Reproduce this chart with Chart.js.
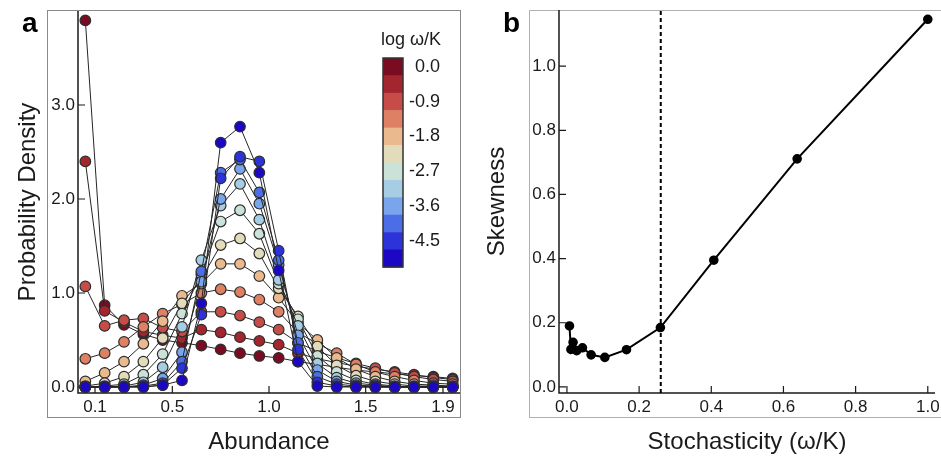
<!DOCTYPE html>
<html lang="en">
<head>
  <meta charset="UTF-8">
  <title>Abundance distributions and skewness</title>
  <script src="https://cdn.jsdelivr.net/npm/chart.js"></script>
  <style>
    body { margin: 0; background: #fff; overflow: hidden; }
    #wrap { position: relative; width: 941px; height: 457px; }
    .panel { position: absolute; top: 0; height: 457px; }
    #panelA { left: 0; width: 470px; }
    #panelB { left: 470px; width: 471px; }
  </style>
</head>
<body>
  <div id="wrap">
    <div class="panel" id="panelA"><canvas id="chartA"></canvas></div>
    <div class="panel" id="panelB"><canvas id="chartB"></canvas></div>
  </div>

  <script>
    // ---- panel a : abundance histograms, one curve per noise level
    const abundance = [0.05, 0.15, 0.25, 0.35, 0.45, 0.55, 0.65, 0.75, 0.85, 0.95,
                       1.05, 1.15, 1.25, 1.35, 1.45, 1.55, 1.65, 1.75, 1.85, 1.95];
    const logNoise = [0.0, -0.45, -0.9, -1.35, -1.8, -2.25, -2.7, -3.15, -3.6, -4.05, -4.5, -4.95];
    const noiseColors = ['#7a0c22', '#a3252e', '#c64d47', '#dd8063', '#ebb98e', '#e3dcba',
                         '#cae2d8', '#a6cde4', '#79a5ec', '#4b6de8', '#2b33d9', '#1c08c4'];

    const dens_000 = [3.90, 0.87, 0.66, 0.56, 0.50, 0.47, 0.44, 0.40, 0.36, 0.33, 0.31, 0.27, 0.24, 0.21, 0.18, 0.16, 0.14, 0.12, 0.11, 0.09];
    const dens_045 = [2.40, 0.81, 0.69, 0.59, 0.55, 0.52, 0.61, 0.58, 0.53, 0.49, 0.45, 0.36, 0.30, 0.26, 0.22, 0.19, 0.16, 0.13, 0.10, 0.08];
    const dens_090 = [1.07, 0.65, 0.71, 0.73, 0.63, 0.59, 0.80, 0.80, 0.76, 0.69, 0.61, 0.47, 0.38, 0.31, 0.25, 0.20, 0.15, 0.11, 0.08, 0.06];
    const dens_135 = [0.30, 0.36, 0.48, 0.64, 0.78, 0.88, 1.00, 1.04, 1.01, 0.93, 0.80, 0.58, 0.46, 0.36, 0.24, 0.16, 0.11, 0.07, 0.04, 0.03];
    const dens_180 = [0.06, 0.15, 0.27, 0.46, 0.70, 0.97, 1.10, 1.31, 1.31, 1.18, 0.95, 0.68, 0.50, 0.31, 0.19, 0.11, 0.06, 0.03, 0.02, 0.01];
    const dens_225 = [0.01, 0.04, 0.11, 0.27, 0.52, 0.89, 1.15, 1.51, 1.58, 1.42, 1.05, 0.75, 0.43, 0.23, 0.12, 0.06, 0.03, 0.01, 0.01, 0.00];
    const dens_270 = [0.00, 0.01, 0.03, 0.13, 0.35, 0.78, 1.20, 1.76, 1.88, 1.63, 1.10, 0.72, 0.33, 0.16, 0.07, 0.03, 0.01, 0.00, 0.00, 0.00];
    const dens_315 = [0.00, 0.00, 0.01, 0.05, 0.21, 0.64, 1.35, 1.93, 2.16, 1.78, 1.14, 0.65, 0.25, 0.10, 0.04, 0.02, 0.00, 0.00, 0.00, 0.00];
    const dens_360 = [0.00, 0.00, 0.00, 0.02, 0.09, 0.37, 1.12, 2.00, 2.32, 1.95, 1.30, 0.55, 0.18, 0.06, 0.02, 0.01, 0.00, 0.00, 0.00, 0.00];
    const dens_405 = [0.00, 0.00, 0.00, 0.01, 0.04, 0.27, 1.23, 2.28, 2.42, 2.07, 1.35, 0.47, 0.11, 0.03, 0.01, 0.00, 0.00, 0.00, 0.00, 0.00];
    const dens_450 = [0.00, 0.00, 0.00, 0.00, 0.02, 0.20, 0.77, 2.22, 2.45, 2.40, 1.45, 0.40, 0.05, 0.01, 0.00, 0.00, 0.00, 0.00, 0.00, 0.00];
    const dens_495 = [0.00, 0.00, 0.00, 0.00, 0.02, 0.07, 0.89, 2.60, 2.77, 2.28, 1.24, 0.27, 0.01, 0.00, 0.00, 0.00, 0.00, 0.00, 0.00, 0.00];
    const densities = [dens_000, dens_045, dens_090, dens_135, dens_180, dens_225,
                       dens_270, dens_315, dens_360, dens_405, dens_450, dens_495];

    const xTicksA = [0.1, 0.5, 1.0, 1.5, 1.9];
    const yTicksA = [0, 1, 2, 3];

    // ---- panel b : skewness vs stochasticity
    const stochasticity = [0.007, 0.011, 0.017, 0.027, 0.043, 0.067, 0.105, 0.165, 0.259, 0.407, 0.638, 1.0];
    const skewness      = [0.190, 0.117, 0.139, 0.113, 0.122, 0.100, 0.092, 0.116, 0.185, 0.395, 0.711, 1.146];
    const threshold = 0.26;
    const xTicksB = [0, 0.2, 0.4, 0.6, 0.8, 1.0];
    const yTicksB = [0, 0.2, 0.4, 0.6, 0.8, 1.0];

    // axis ranges
    const rangeA = { xmin: 0.012, xmax: 1.988, ymin: -0.064, ymax: 4.0 };
    const rangeB = { xmin: -0.022, xmax: 1.02, ymin: -0.019, ymax: 1.175 };

    Chart.defaults.font.family = "'Liberation Sans', Arial, Helvetica, sans-serif";
    Chart.defaults.color = '#1a1a1a';
    Chart.defaults.animation = false;

    const FONT = "'Liberation Sans', Arial, Helvetica, sans-serif";
    const fixTicks = list => scale => { scale.ticks = list.map(v => ({ value: v })); };

    function xAxis(min, max, ticks, title) {
      return {
        type: 'linear', min, max,
        grid: { display: false, drawTicks: false },
        border: { display: false },
        afterBuildTicks: fixTicks(ticks),
        afterFit: s => { s.height = 64; s.paddingLeft = 0; s.paddingRight = 0; },
        ticks: { padding: 4, font: { size: 17 }, maxRotation: 0, autoSkip: false,
                 callback: v => Number(v).toFixed(1) },
        title: { display: true, text: title, font: { size: 24 }, padding: { top: 0, bottom: 0 } }
      };
    }

    function yAxis(min, max, ticks, title, width, titlePad) {
      return {
        type: 'linear', min, max,
        grid: { display: false, drawTicks: false },
        border: { display: false },
        afterBuildTicks: fixTicks(ticks),
        afterFit: s => { s.width = width; s.paddingTop = 0; s.paddingBottom = 0; },
        ticks: { padding: 3, font: { size: 17 }, autoSkip: false,
                 callback: v => Number(v).toFixed(1) },
        title: { display: true, text: title, font: { size: 24 }, padding: { top: titlePad, bottom: 0 } }
      };
    }

    // frame, axis lines, inward ticks and panel letter
    const panelDecor = {
      id: 'panelDecor',
      beforeDatasetsDraw(chart, args, o) {
        const { ctx, chartArea: a } = chart;
        const xs = chart.scales.x, ys = chart.scales.y;
        ctx.save();
        ctx.strokeStyle = o.frameColor;
        ctx.lineWidth = 1;
        ctx.strokeRect(o.frame[0] + 0.5, o.frame[1] + 0.5, o.frame[2], o.frame[3]);

        ctx.strokeStyle = '#1a1a1a';
        ctx.lineWidth = 1.5;
        ctx.beginPath();
        ctx.moveTo(a.left, a.top);
        ctx.lineTo(a.left, a.bottom);
        ctx.lineTo(a.right, a.bottom);
        ctx.stroke();

        ctx.lineWidth = 1.2;
        ctx.beginPath();
        xs.ticks.forEach(t => {
          const px = xs.getPixelForValue(t.value);
          ctx.moveTo(px, a.bottom); ctx.lineTo(px, a.bottom - 7);
        });
        ys.ticks.forEach(t => {
          const py = ys.getPixelForValue(t.value);
          ctx.moveTo(a.left, py); ctx.lineTo(a.left + 7, py);
        });
        ctx.stroke();

        ctx.font = 'bold 28px ' + FONT;
        ctx.fillStyle = '#000';
        ctx.textAlign = 'left';
        ctx.textBaseline = 'alphabetic';
        ctx.fillText(o.letter, o.letterX, o.letterY);
        ctx.restore();
      }
    };

    // stepped colour bar for the noise levels
    const colorBar = {
      id: 'colorBar',
      afterDatasetsDraw(chart, args, o) {
        if (!o.colors) return;
        const { ctx } = chart;
        const n = o.colors.length, h = o.h / n;
        ctx.save();
        o.colors.forEach((c, i) => {
          ctx.fillStyle = c;
          ctx.fillRect(o.x, o.y + i * h, o.w, h + 0.5);
        });
        ctx.strokeStyle = '#333';
        ctx.lineWidth = 1.5;
        ctx.strokeRect(o.x, o.y, o.w, o.h);
        ctx.font = '18px ' + FONT;
        ctx.fillStyle = '#1a1a1a';
        ctx.textAlign = 'right';
        ctx.textBaseline = 'middle';
        o.levels.forEach((v, i) => {
          if (i % 2) return;
          ctx.fillText(v.toFixed(1), o.labelRight, o.y + (i + 0.5) * h);
        });
        ctx.textAlign = 'center';
        ctx.textBaseline = 'alphabetic';
        ctx.fillText(o.title, o.titleX, o.titleY);
        ctx.restore();
      }
    };

    const datasetsA = densities.map((vals, i) => ({
      label: 'log ω/K = ' + logNoise[i].toFixed(2),
      data: abundance.map((x, j) => ({ x, y: vals[j] })),
      showLine: true,
      borderColor: '#262626',
      borderWidth: 1,
      pointBackgroundColor: noiseColors[i],
      pointBorderColor: '#2e2e2e',
      pointBorderWidth: 1.2,
      pointRadius: 5.3,
      pointHoverRadius: 5.3,
      order: densities.length - 1 - i,
      clip: false
    }));

    new Chart(document.getElementById('chartA'), {
      type: 'scatter',
      data: { datasets: datasetsA },
      options: {
        responsive: true,
        maintainAspectRatio: false,
        layout: { padding: { top: 11, right: 10, left: 0, bottom: 0 } },
        plugins: {
          legend: { display: false },
          tooltip: { enabled: false },
          panelDecor: { frame: [47, 10, 413, 407], frameColor: '#8a8a8a', letter: 'a', letterX: 22, letterY: 32 },
          colorBar: { colors: noiseColors, levels: logNoise, x: 383, y: 58, w: 20, h: 209,
                      labelRight: 440, title: 'log ω/K', titleX: 411, titleY: 45 }
        },
        scales: {
          x: xAxis(rangeA.xmin, rangeA.xmax, xTicksA, 'Abundance'),
          y: yAxis(rangeA.ymin, rangeA.ymax, yTicksA, 'Probability Density', 78, 14)
        }
      },
      plugins: [panelDecor, colorBar]
    });

    new Chart(document.getElementById('chartB'), {
      type: 'scatter',
      data: {
        datasets: [
          {
            label: 'Skewness',
            data: stochasticity.map((x, i) => ({ x, y: skewness[i] })),
            showLine: true,
            borderColor: '#000',
            borderWidth: 2,
            pointBackgroundColor: '#000',
            pointBorderColor: '#000',
            pointRadius: 3.8,
            clip: false
          },
          {
            label: 'threshold',
            data: [{ x: threshold, y: rangeB.ymin }, { x: threshold, y: rangeB.ymax }],
            showLine: true,
            borderColor: '#000',
            borderWidth: 2,
            borderDash: [4, 3],
            pointRadius: 0
          }
        ]
      },
      options: {
        responsive: true,
        maintainAspectRatio: false,
        layout: { padding: { top: 10, right: 2, left: 0, bottom: 0 } },
        plugins: {
          legend: { display: false },
          tooltip: { enabled: false },
          panelDecor: { frame: [59, 10, 430, 407], frameColor: '#b0b0b0', letter: 'b', letterX: 33, letterY: 32 }
        },
        scales: {
          x: xAxis(rangeB.xmin, rangeB.xmax, xTicksB, 'Stochasticity (ω/K)'),
          y: yAxis(rangeB.ymin, rangeB.ymax, yTicksB, 'Skewness', 89, 13)
        }
      },
      plugins: [panelDecor, colorBar]
    });
  </script>
</body>
</html>
